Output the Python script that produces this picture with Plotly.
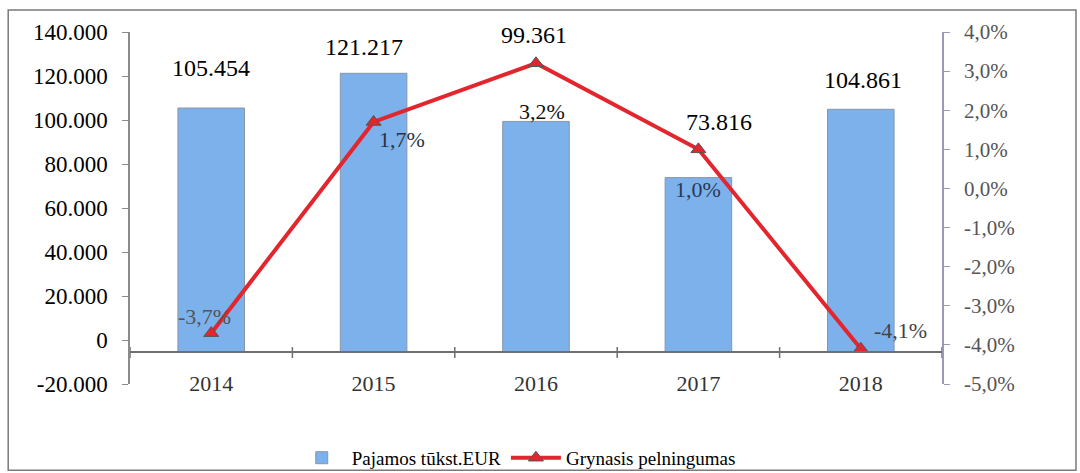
import plotly.graph_objects as go

# ---- data ----
years = ["2014", "2015", "2016", "2017", "2018"]
revenue = [105454, 121217, 99361, 73816, 104861]          # Pajamos tūkst.EUR
revenue_labels = ["105.454", "121.217", "99.361", "73.816", "104.861"]
margin_pct = [-0.037, 0.017, 0.032, 0.010, -0.041]         # Grynasis pelningumas
margin_labels = ["-3,7%", "1,7%", "3,2%", "1,0%", "-4,1%"]

left_ticks = [-20000, 0, 20000, 40000, 60000, 80000, 100000, 120000, 140000]
left_ticktext = ["-20.000", "0", "20.000", "40.000", "60.000", "80.000",
                 "100.000", "120.000", "140.000"]
right_ticks = [-0.05, -0.04, -0.03, -0.02, -0.01, 0.0, 0.01, 0.02, 0.03, 0.04]
right_ticktext = ["-5,0%", "-4,0%", "-3,0%", "-2,0%", "-1,0%", "0,0%",
                  "1,0%", "2,0%", "3,0%", "4,0%"]

# ---- layout constants (positions / styles) ----
Y_MIN, Y_MAX = -20000, 140000
Y2_MIN, Y2_MAX = -0.05, 0.04
AXIS_BASE = -5500          # where the category axis crosses the value axis
SERIF = "Liberation Serif, Times New Roman, serif"

bar_label_shift = [(0, 40), (-10, 26), (-2, 86), (21, 56), (2, 29)]
pct_label_shift = [(-7, 17), (28, -18), (6, -48), (0, -40), (40, 18)]
pct_label_color = ["#555555", "#2a3340", "#111111", "#2a3a55", "#444444"]

fig = go.Figure()

fig.add_trace(go.Bar(
    x=years,
    y=[v - AXIS_BASE for v in revenue],
    base=AXIS_BASE,
    width=0.41,
    name="Pajamos tūkst.EUR",
    marker=dict(color="#7DB1EC", line=dict(color="#8796aa", width=1)),
    xaxis="x", yaxis="y",
))

fig.add_trace(go.Scatter(
    x=years,
    y=margin_pct,
    name="Grynasis pelningumas",
    mode="lines+markers",
    line=dict(color="#E3262E", width=4),
    marker=dict(symbol="triangle-up", size=13, color="#E3262E",
                line=dict(color="#555555", width=1)),
    xaxis="x", yaxis="y2",
))

annotations = []
for i, (v, lab, (dx, dy)) in enumerate(zip(revenue, revenue_labels, bar_label_shift)):
    annotations.append(dict(
        x=i, y=v, xref="x", yref="y", text=lab, showarrow=False,
        xshift=dx, yshift=dy, yanchor="middle",
        font=dict(family=SERIF, size=24, color="#000000"),
    ))
for i, (v, lab, (dx, dy), col) in enumerate(zip(margin_pct, margin_labels,
                                                pct_label_shift, pct_label_color)):
    annotations.append(dict(
        x=i, y=v, xref="x", yref="y2", text=lab, showarrow=False,
        xshift=dx, yshift=dy, yanchor="middle",
        font=dict(family=SERIF, size=22, color=col),
    ))

shapes = [
    # chart border
    dict(type="rect", xref="paper", yref="paper",
         x0=-0.150, x1=1.165, y0=-0.245, y1=1.0625,
         line=dict(color="#7a7a7a", width=1.5), layer="below"),
    # category axis line (crosses value axis below zero)
    dict(type="line", xref="paper", yref="y", x0=0, x1=1,
         y0=AXIS_BASE, y1=AXIS_BASE, line=dict(color="#6f6f6f", width=2),
         layer="above"),
]
for i in range(len(years) + 1):
    shapes.append(dict(type="line", xref="x", yref="y",
                       x0=i - 0.5, x1=i - 0.5,
                       ysizemode="pixel", yanchor=AXIS_BASE, y0=-6, y1=5,
                       line=dict(color="#6f6f6f", width=1.5)))

fig.update_layout(
    width=1080, height=473, autosize=False,
    margin=dict(l=130, r=138, t=32, b=89, autoexpand=False),
    paper_bgcolor="white", plot_bgcolor="white",
    barmode="overlay",
    font=dict(family=SERIF, color="#000000"),
    showlegend=True,
    legend=dict(orientation="h", xref="container", yref="container",
                x=0.478, xanchor="center", y=0.032, yanchor="middle",
                font=dict(family=SERIF, size=19, color="#000000"),
                itemwidth=50,
                bgcolor="rgba(0,0,0,0)"),
    xaxis=dict(
        type="category", range=[-0.5, len(years) - 0.5], automargin=False,
        showline=False, ticks="",
        tickfont=dict(family=SERIF, size=22, color="#333333"),
        ticklabelstandoff=-16,
        showgrid=False, zeroline=False,
    ),
    yaxis=dict(
        range=[Y_MIN, Y_MAX], tickvals=left_ticks, ticktext=left_ticktext,
        automargin=False,
        showline=True, linecolor="#8a8a8a", linewidth=1.5,
        ticks="outside", ticklen=6, tickcolor="#8a8a8a",
        tickfont=dict(family=SERIF, size=23, color="#000000"),
        ticklabelstandoff=10,
        showgrid=False, zeroline=False,
    ),
    yaxis2=dict(
        range=[Y2_MIN, Y2_MAX], tickvals=right_ticks, ticktext=right_ticktext,
        overlaying="y", side="right", automargin=False,
        showline=True, linecolor="#9a9ab8", linewidth=1.5,
        ticks="outside", ticklen=6, tickcolor="#9a9ab8",
        tickfont=dict(family=SERIF, size=21, color="#555555"),
        ticklabelstandoff=10,
        showgrid=False, zeroline=False,
    ),
    annotations=annotations,
    shapes=shapes,
)

fig.write_html(
    "out.html",
    config={"displayModeBar": False},
    post_script="document.body.style.margin='0';document.body.style.overflow='hidden';",
)
